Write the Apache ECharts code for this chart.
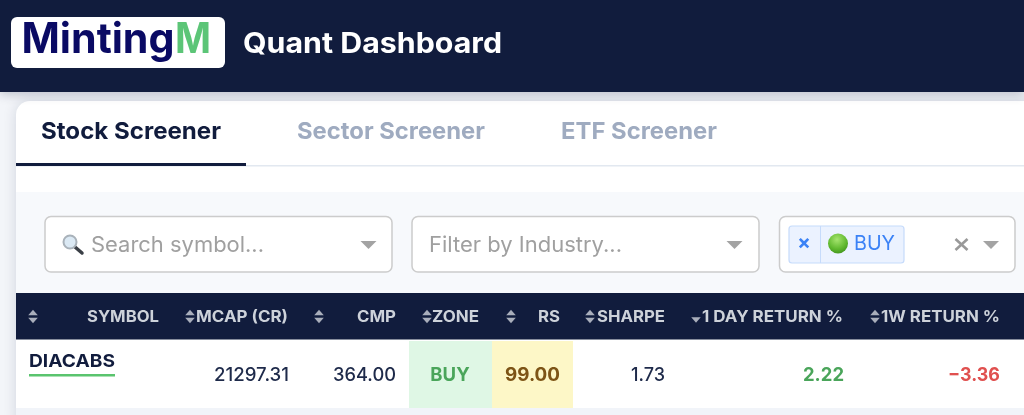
<!DOCTYPE html>
<html><head><meta charset="utf-8">
<style>html,body{margin:0;padding:0;background:#f3f5f9}#c{width:1024px;height:415px}</style>
<script src="https://cdn.jsdelivr.net/npm/echarts@6/dist/echarts.min.js"></script>
</head><body><div id="c"></div>
<script>
const brandLabels = ['Minting', 'M'];
const dashboardTitle = 'Quant Dashboard';
const tabLabels = ['Stock Screener', 'Sector Screener', 'ETF Screener'];
const filterPlaceholders = ['Search symbol...', 'Filter by Industry...'];
const selectedZone = 'BUY';
const columnLabels = ['SYMBOL', 'MCAP (CR)', 'CMP', 'ZONE', 'RS', 'SHARPE', '1 DAY RETURN %', '1W RETURN %'];
const rowSymbol = 'DIACABS';
const rowMcap = '21297.31';
const rowCmp = '364.00';
const rowZone = 'BUY';
const rowRs = '99.00';
const rowSharpe = '1.73';
const rowDayReturn = '2.22';
const rowWeekReturn = '\u22123.36';

const F = 'Inter, "Noto Sans", sans-serif';
const NAVY = '#111c3d';
const g = [];
const mctx = document.createElement('canvas').getContext('2d');
function rect(x, y, w, h, fill, extra) {
  g.push({type:'rect', shape:{x, y, width:w, height:h, r:(extra&&extra.r)||0},
    style:Object.assign({fill}, (extra&&extra.style)||{}), silent:true});
}
function text(s, x, y, size, fill, weight, align, targetW) {
  const font = (weight||400)+' '+size+'px '+F;
  let scaleX = 1;
  if (targetW) { mctx.font = font; scaleX = targetW / mctx.measureText(s).width; }
  g.push({type:'text', x, y:y+1, scaleX, silent:true, style:{text:s, x:0, y:0, fill, align:align||'left', verticalAlign:'middle', font}});
}
function tri(cx, cy, w, h, fill, up) {
  const d = up ? -1 : 1;
  g.push({type:'polygon', silent:true, shape:{points:[[cx-w/2, cy-d*h/2],[cx+w/2, cy-d*h/2],[cx, cy+d*h/2]]}, style:{fill}});
}
function sortIcon(cx, cy) {
  tri(cx, cy-4, 9.5, 5.5, '#a9aebb', true);
  tri(cx, cy+4, 9.5, 5.5, '#a9aebb', false);
}
function box(x, y, w, h) {
  rect(x, y, w, h, '#ffffff', {r:6, style:{stroke:'#cccccc', lineWidth:1.5}});
}

/* page and navbar */
rect(0, 0, 1024, 415, '#f3f5f9');
rect(16, 101, 1030, 330, '#ffffff', {r:14, style:{shadowBlur:14, shadowColor:'rgba(17,28,61,0.14)', shadowOffsetY:0}});
rect(0, 0, 1024, 92, NAVY, {style:{shadowBlur:10, shadowColor:'rgba(17,28,61,0.25)', shadowOffsetY:2}});

/* logo */
rect(11, 17, 214, 51, '#ffffff', {r:6});
text(brandLabels[0], 21.5, 39.5, 42, '#0a0a64', 700, 'left', 153);
text(brandLabels[1], 175, 39.5, 42, '#5cc577', 700, 'left', 36);
text(dashboardTitle, 243, 43.5, 28.5, '#ffffff', 700, 'left', 259);

/* tabs */
text(tabLabels[0], 41, 130.5, 23.5, NAVY, 700, 'left', 180);
text(tabLabels[1], 297, 130.5, 23.5, '#9fabc0', 700, 'left', 188);
text(tabLabels[2], 561, 130.5, 23.5, '#9fabc0', 700, 'left', 156);
rect(16, 165, 1008, 1.5, '#e2e8f0');
rect(16, 163, 230, 3, NAVY);

/* filter band */
rect(16, 192, 1008, 101, '#f7f9fc');
box(45, 216.5, 347, 55.5);
box(412, 216.5, 347, 55.5);
box(779.5, 216.5, 235.5, 55.5);

/* magnifier */
g.push({type:'line', silent:true, shape:{x1:75, y1:247, x2:82, y2:253}, style:{stroke:'#3a3f46', lineWidth:3.5, lineCap:'round'}});
g.push({type:'circle', silent:true, shape:{cx:70, cy:242, r:6.5}, style:{fill:'#dbe9f4', stroke:'#a9b2ba', lineWidth:2}});
text(filterPlaceholders[0], 91, 244.5, 21.5, '#a0a0a0', 400, 'left', 173);
tri(368.5, 245, 16, 8, '#a3a3a3', false);
text(filterPlaceholders[1], 429, 244.5, 21.5, '#a0a0a0', 400, 'left', 193);
tri(734.5, 245, 16, 8, '#a3a3a3', false);

/* selected tag */
rect(789, 226, 115, 37, '#ebf2ff', {r:3, style:{stroke:'#c6dbfb', lineWidth:1.2}});
rect(820, 226, 1, 37, '#c6dbfb');
text('\u00d7', 804, 242, 20, '#3b82f6', 700, 'center');
g.push({type:'circle', silent:true, shape:{cx:838, cy:243.5, r:10}, style:{
  fill:{type:'radial', x:0.45, y:0.3, r:0.8, colorStops:[{offset:0, color:'#a6e56f'},{offset:0.6, color:'#5fb82e'},{offset:1, color:'#3a8a1a'}]}}});
text(selectedZone, 854, 242.5, 20.5, '#3b82f6', 400, 'left', 41);
g.push({type:'line', silent:true, shape:{x1:955.5, y1:239, x2:967.5, y2:250}, style:{stroke:'#999999', lineWidth:2.6}});
g.push({type:'line', silent:true, shape:{x1:967.5, y1:239, x2:955.5, y2:250}, style:{stroke:'#999999', lineWidth:2.6}});
tri(991, 245, 16, 8, '#a3a3a3', false);

/* table header */
rect(16, 293, 1008, 46.5, NAVY);
const HC = '#cdd2da';
const headRight = [159, 288, 396, 479, 560, 665, 843, 1000];
const headWidth = [72, 92, 39, 47, 22, 68, 141, 119];
const iconX = [33, 190, 319, 427, 511, 590, 696, 875];
columnLabels.forEach((c, i) => {
  text(c, headRight[i], 316, 15.8, HC, 700, 'right', headWidth[i]);
  if (i === 6) tri(iconX[i], 320, 9.5, 5.5, '#a9aebb', false);
  else sortIcon(iconX[i], 316.5);
});

/* table row */
rect(16, 340, 1008, 68, '#ffffff');
rect(16, 408, 1008, 7, '#f1f4f9');
rect(409, 341, 83, 67, '#dff7e5');
rect(492, 341, 81, 67, '#fdf7c7');
text(rowSymbol, 29, 361, 18, NAVY, 700, 'left', 86);
rect(29, 374, 86, 2.4, '#5ac46e');
const RC = '#1e2a4a';
text(rowMcap, 289, 374.5, 18.5, RC, 500, 'right', 75);
text(rowCmp, 396, 374.5, 18.5, RC, 500, 'right', 63);
text(rowZone, 450, 374.5, 18.5, '#4aa55a', 700, 'center');
text(rowRs, 560, 374.5, 18.5, '#7d5416', 700, 'right', 55);
text(rowSharpe, 665, 374.5, 18.5, RC, 500, 'right', 34);
text(rowDayReturn, 844, 374.5, 18.5, '#4aa55a', 700, 'right', 41);
text(rowWeekReturn, 1000, 374.5, 18.5, '#e0504f', 700, 'right', 52);

const chart = echarts.init(document.getElementById('c'), null, {renderer:'canvas'});
chart.setOption({animation:false, backgroundColor:'#f3f5f9', graphic:{elements:g}});
</script></body></html>
